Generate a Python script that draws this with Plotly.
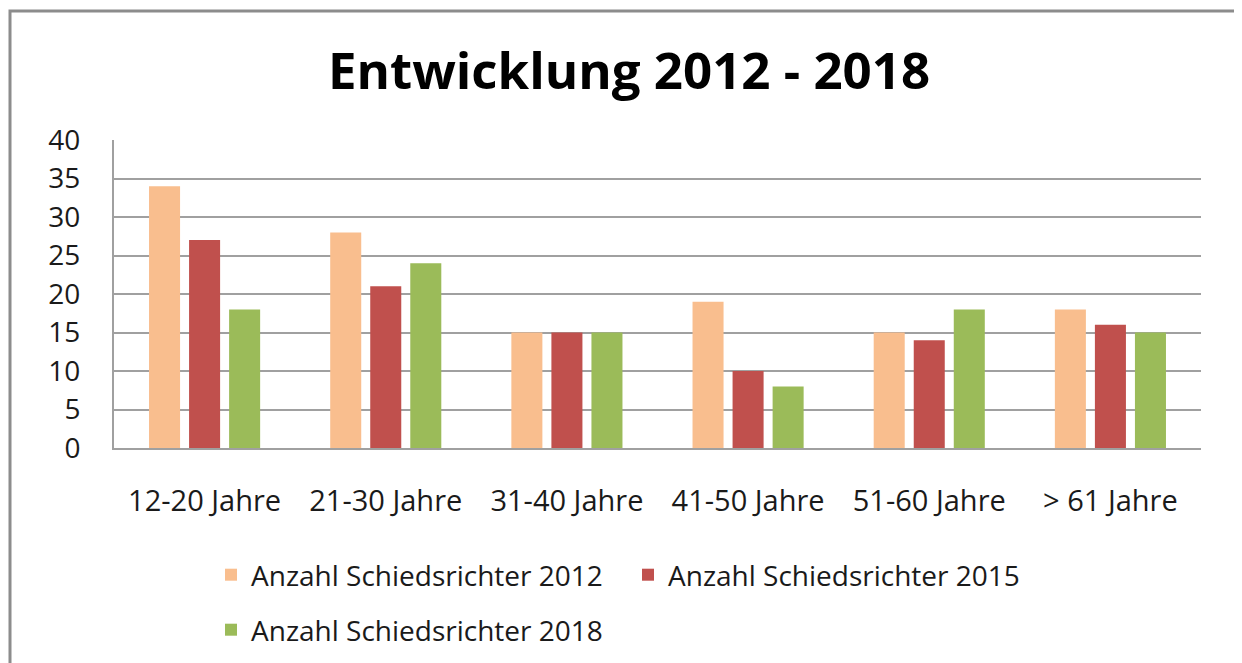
import plotly.graph_objects as go

categories = ["12-20 Jahre", "21-30 Jahre", "31-40 Jahre", "41-50 Jahre", "51-60 Jahre", "> 61 Jahre"]
series_names = ["Anzahl Schiedsrichter 2012", "Anzahl Schiedsrichter 2015", "Anzahl Schiedsrichter 2018"]
values_2012 = [34, 28, 15, 19, 15, 18]
values_2015 = [27, 21, 15, 10, 14, 16]
values_2018 = [18, 24, 15, 8, 18, 15]
colors = ["#F9BE8E", "#C0504D", "#9BBB59"]
y_ticks = [0, 5, 10, 15, 20, 25, 30, 35, 40]

W, H = 1242, 663
OFF = 8  # page body margin
L, T = 114 - OFF, 140 - OFF
plot_right, plot_bottom = 1201 - OFF, 448 - OFF
R, B = W - plot_right, H - plot_bottom
pw, ph = W - L - R, H - T - B

FONT = "Open Sans, sans-serif"

def px_x(p):
    return (p - OFF - L) / pw

def px_y(p):
    return (H - B - (p - OFF)) / ph

fig = go.Figure()
legend_ids = ["legend", "legend2", "legend3"]
for name, vals, col, lg in zip(series_names, [values_2012, values_2015, values_2018], colors, legend_ids):
    fig.add_trace(go.Bar(x=categories, y=vals, name=name, marker_color=col,
                         marker_line_width=0, legend=lg))

leg_common = dict(orientation="h", xanchor="left", yanchor="middle",
                  font=dict(size=28, family=FONT, color="#1a1a1a"), bgcolor="rgba(0,0,0,0)")

fig.update_layout(
    width=W, height=H,
    margin=dict(l=L, r=R, t=T, b=B),
    paper_bgcolor="white", plot_bgcolor="white",
    font=dict(family=FONT, size=28, color="#1a1a1a"),
    title=dict(text="<b>Entwicklung 2012 - 2018</b>", x=0.5, xref="container",
               y=1 - (71 - OFF) / H, yref="container", yanchor="middle", xanchor="center",
               font=dict(size=51, color="black", family=FONT)),
    barmode="group", bargap=0.337, bargroupgap=0.225,
    xaxis=dict(showgrid=False, showline=True, linecolor="#A0A0A0", linewidth=2,
               ticks="", tickfont=dict(size=29), ticklabelstandoff=26, fixedrange=True),
    yaxis=dict(range=[0, 40], tickvals=y_ticks, showgrid=True, gridcolor="#A0A0A0",
               gridwidth=1.5, showline=True, linecolor="#A0A0A0", linewidth=2,
               zeroline=False, ticks="", tickfont=dict(size=28), ticklabelstandoff=26),
    legend=dict(x=px_x(224 - 13), y=px_y(575), **leg_common),
    legend2=dict(x=px_x(641 - 13), y=px_y(575), **leg_common),
    legend3=dict(x=px_x(224 - 13), y=px_y(630), **leg_common),
    showlegend=True,
    shapes=[dict(type="rect", xref="paper", yref="paper",
                 x0=px_x(10), x1=px_x(1237), y0=px_y(690), y1=px_y(11),
                 line=dict(color="#8C8C8C", width=3), layer="below")],
)

fig.write_html("out.html")
